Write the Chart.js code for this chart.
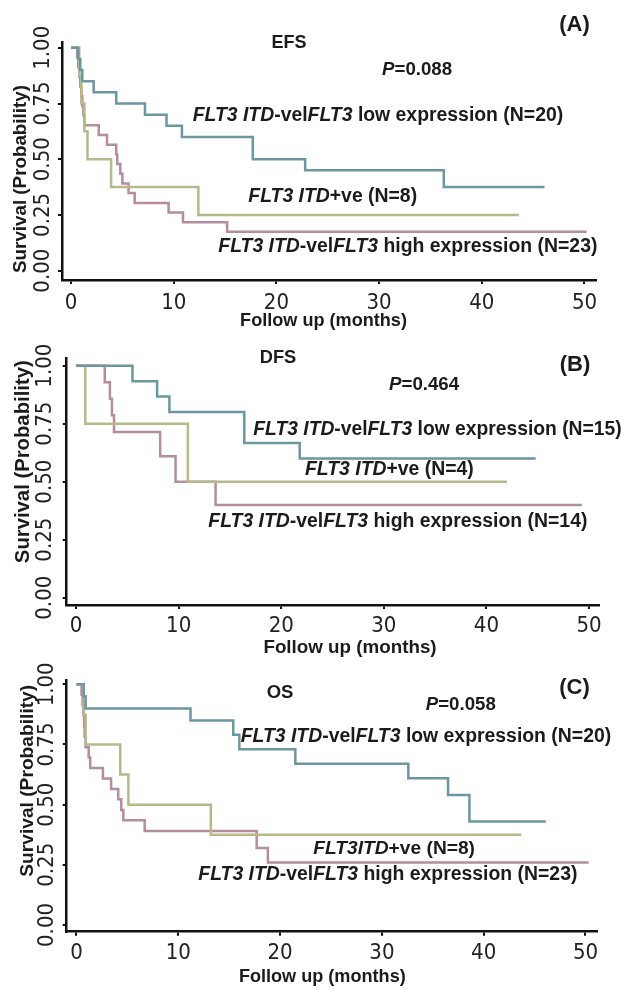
<!DOCTYPE html>
<html>
<head>
<meta charset="utf-8">
<title>FLT3 survival curves</title>
<script src="https://cdn.jsdelivr.net/npm/chart.js@4.4.0/dist/chart.umd.min.js"></script>
<style>
  body { margin: 0; background: #fff; }
  #wrap { position: relative; width: 629px; height: 989px; overflow: hidden; }
  canvas { position: absolute; left: 0; }
</style>
</head>
<body>
<div id="wrap">
  <canvas id="efs" width="629" height="330" style="top:0px"></canvas>
  <canvas id="dfs" width="629" height="336" style="top:330px"></canvas>
  <canvas id="os" width="629" height="334" style="top:655px"></canvas>
</div>
<script>
// ---- values: follow-up (months) and survival probability ----
const xTicks = [0, 10, 20, 30, 40, 50];
const yTicks = [0, 0.25, 0.5, 0.75, 1];

// (A) EFS
const efsLowTime = [0, 0.7, 0.9, 1.1, 2.2, 4.4, 7.2, 9.3, 10.8, 17.7, 22.8, 36.3, 46.1];
const efsLowSurv = [1, 0.95, 0.90, 0.85, 0.80, 0.75, 0.70, 0.65, 0.60, 0.50, 0.45, 0.375, 0.375];
const efsPosTime = [0, 0.8, 1.0, 1.3, 1.6, 3.9, 12.4, 43.6];
const efsPosSurv = [1, 0.875, 0.75, 0.625, 0.50, 0.375, 0.25, 0.25];
const efsHighTime = [0, 0.6, 0.7, 0.8, 0.9, 1.0, 1.1, 1.2, 1.3, 2.7, 3.5, 4.4, 4.5, 4.8, 5.0, 5.6, 6.2, 9.5, 10.9, 15.2, 50.2];
const efsHighSurv = [1, 0.957, 0.913, 0.870, 0.826, 0.783, 0.739, 0.696, 0.652, 0.609, 0.565, 0.522, 0.478, 0.435, 0.391, 0.348, 0.304, 0.261, 0.217, 0.174, 0.174];

// (B) DFS
const dfsLowTime = [0, 5.5, 7.9, 9.1, 16.4, 21.8, 44.8];
const dfsLowSurv = [1, 0.933, 0.867, 0.80, 0.667, 0.60, 0.60];
const dfsPosTime = [0, 0.9, 10.9, 42.0];
const dfsPosSurv = [1, 0.75, 0.50, 0.50];
const dfsHighTime = [0, 2.8, 3.3, 3.5, 3.7, 8.2, 9.7, 13.6, 49.3];
const dfsHighSurv = [1, 0.929, 0.857, 0.786, 0.714, 0.61, 0.50, 0.40, 0.40];

// (C) OS
const osLowTime = [0, 0.7, 0.9, 11.2, 15.4, 16.0, 21.5, 32.6, 36.5, 38.6, 46.1];
const osLowSurv = [1, 0.95, 0.90, 0.85, 0.79, 0.73, 0.67, 0.61, 0.54, 0.43, 0.43];
const osPosTime = [0, 0.7, 0.9, 4.3, 5.1, 13.2, 43.7];
const osPosSurv = [1, 0.875, 0.75, 0.625, 0.50, 0.375, 0.375];
const osHighTime = [0, 0.5, 0.6, 0.7, 0.75, 0.8, 0.9, 1.2, 1.35, 2.6, 3.4, 4.1, 4.4, 4.6, 6.7, 17.7, 18.8, 50.3];
const osHighSurv = [1, 0.957, 0.913, 0.870, 0.826, 0.783, 0.739, 0.696, 0.652, 0.609, 0.565, 0.522, 0.478, 0.435, 0.39, 0.32, 0.26, 0.26];

const lowColor = '#6a97a1';
const posColor = '#b6b98a';
const highColor = '#b58d9c';
const inkColor = '#1b1b1b';
const fontFamily = '"Liberation Sans", Arial, Helvetica, sans-serif';
const tickFamily = '"Liberation Sans Narrow", "Arial Narrow", "DejaVu Sans Condensed", sans-serif';

// label text pieces: [text, italic]
function lowLabel(n) {
    return [['FLT3 ITD', true], ['-vel', false], ['FLT3', true], [' low expression (N=' + n + ')', false]];
}
function highLabel(n) {
    return [['FLT3 ITD', true], ['-vel', false], ['FLT3', true], [' high expression (N=' + n + ')', false]];
}
function posLabel(name, n) {
    return [[name, true], ['+ve (N=' + n + ')', false]];
}
function pLabel(p) {
    return [['P', true], ['=' + p, false]];
}

const panels = [
    {
        id: 'efs', height: 330,
        area: { left: 62, right: 596, top: 42, bottom: 280 },
        xRange: [-0.88, 51.12], yRange: [-0.042, 1.026],
        yTickPad: -7, xTickPad: 5.6,
        series: [[efsLowTime, efsLowSurv, lowColor], [efsPosTime, efsPosSurv, posColor], [efsHighTime, efsHighSurv, highColor]],
        texts: [
            { runs: [['EFS', false]], x: 289, y: 43, size: 18, align: 'center' },
            { runs: [['(A)', false]], x: 574.5, y: 25, size: 22, align: 'center' },
            { runs: pLabel('0.088'), x: 382, y: 70, size: 18.7 },
            { runs: lowLabel(20), x: 192.7, y: 116, size: 19.4 },
            { runs: posLabel('FLT3 ITD', 8), x: 248.3, y: 196.7, size: 19.4 },
            { runs: highLabel(23), x: 218.3, y: 246.7, size: 19.4 },
            { runs: [['Follow up (months)', false]], x: 323.5, y: 321, size: 18.1, align: 'center' },
            { runs: [['Survival (Probability)', false]], x: 21, y: 179, size: 18.8, align: 'center', rotate: true }
        ]
    },
    {
        id: 'dfs', height: 336,
        area: { left: 66.7, right: 599, top: 28, bottom: 275 },
        xRange: [-0.91, 50.97], yRange: [-0.0315, 1.033],
        yTickPad: -4.8, xTickPad: 3.6,
        series: [[dfsLowTime, dfsLowSurv, lowColor], [dfsPosTime, dfsPosSurv, posColor], [dfsHighTime, dfsHighSurv, highColor]],
        texts: [
            { runs: [['DFS', false]], x: 278, y: 28.3, size: 18.3, align: 'center' },
            { runs: [['(B)', false]], x: 575, y: 35, size: 22, align: 'center' },
            { runs: pLabel('0.464'), x: 389, y: 55, size: 18.7 },
            { runs: lowLabel(15), x: 253.3, y: 100, size: 19.3 },
            { runs: posLabel('FLT3 ITD', 4), x: 305, y: 140, size: 19.4 },
            { runs: highLabel(14), x: 208.3, y: 191.7, size: 19.4 },
            { runs: [['Follow up (months)', false]], x: 350, y: 318.3, size: 18.8, align: 'center' },
            { runs: [['Survival (Probability)', false]], x: 23.3, y: 131.7, size: 20.3, align: 'center', rotate: true }
        ]
    },
    {
        id: 'os', height: 334,
        area: { left: 66.7, right: 597.3, top: 25, bottom: 276.7 },
        xRange: [-0.96, 51.16], yRange: [-0.028, 1.018],
        yTickPad: -6.5, xTickPad: 4.4,
        series: [[osLowTime, osLowSurv, lowColor], [osPosTime, osPosSurv, posColor], [osHighTime, osHighSurv, highColor]],
        texts: [
            { runs: [['OS', false]], x: 280, y: 38.3, size: 18.5, align: 'center' },
            { runs: [['(C)', false]], x: 574.5, y: 33.3, size: 22, align: 'center' },
            { runs: pLabel('0.058'), x: 425.7, y: 50, size: 18.7 },
            { runs: lowLabel(20), x: 240.7, y: 81.7, size: 19.4 },
            { runs: posLabel('FLT3ITD', 8), x: 313.3, y: 193.3, size: 19.2 },
            { runs: highLabel(23), x: 198.3, y: 220, size: 19.4 },
            { runs: [['Follow up (months)', false]], x: 322.3, y: 321.7, size: 18.1, align: 'center' },
            { runs: [['Survival (Probability)', false]], x: 27.5, y: 125.8, size: 19.2, align: 'center', rotate: true }
        ]
    }
];

function boldFont(italic, size) {
    return (italic ? 'italic ' : '') + 'bold ' + size + 'px ' + fontFamily;
}

// draws the annotations (group labels, P values, axis titles) after the chart
function textPlugin(items) {
    return {
        id: 'panelText',
        afterDraw(chart) {
            const ctx = chart.ctx;
            ctx.save();
            ctx.fillStyle = inkColor;
            ctx.textBaseline = 'middle';
            ctx.textAlign = 'left';
            items.forEach(item => {
                let total = 0;
                item.runs.forEach(r => {
                    ctx.font = boldFont(r[1], item.size);
                    total += ctx.measureText(r[0]).width;
                });
                ctx.save();
                ctx.translate(item.x, item.y);
                if (item.rotate) ctx.rotate(-Math.PI / 2);
                let x = item.align === 'center' ? -total / 2 : 0;
                item.runs.forEach(r => {
                    ctx.font = boldFont(r[1], item.size);
                    ctx.fillText(r[0], x, 0);
                    x += ctx.measureText(r[0]).width;
                });
                ctx.restore();
            });
            ctx.restore();
        }
    };
}

panels.forEach(p => {
    const ctx = document.getElementById(p.id).getContext('2d');
    const datasets = p.series.map(s => ({
        data: s[0].map((t, i) => ({ x: t, y: s[1][i] })),
        borderColor: s[2],
        borderWidth: 2.5,
        stepped: 'before',
        pointRadius: 0,
        fill: false,
        tension: 0
    }));

    new Chart(ctx, {
        type: 'line',
        data: { datasets: datasets },
        options: {
            responsive: false,
            animation: false,
            devicePixelRatio: 1,
            layout: { padding: { top: p.area.top, right: 629 - p.area.right, left: 0, bottom: 0 } },
            plugins: { legend: { display: false }, tooltip: { enabled: false } },
            scales: {
                x: {
                    type: 'linear',
                    min: p.xRange[0], max: p.xRange[1],
                    afterBuildTicks: s => { s.ticks = xTicks.map(v => ({ value: v })); },
                    afterFit: s => { s.height = p.height - p.area.bottom; },
                    ticks: { color: '#222', padding: p.xTickPad, maxRotation: 0, font: { family: tickFamily, size: 22 } },
                    grid: { drawOnChartArea: false, drawTicks: true, tickLength: 4, color: '#111', lineWidth: 2 },
                    border: { display: true, color: '#111', width: 2.5 }
                },
                y: {
                    type: 'linear',
                    min: p.yRange[0], max: p.yRange[1],
                    afterBuildTicks: s => { s.ticks = yTicks.map(v => ({ value: v })); },
                    afterFit: s => { s.width = p.area.left; },
                    ticks: {
                        color: '#222', padding: p.yTickPad, minRotation: 90, maxRotation: 90,
                        crossAlign: 'center', font: { family: tickFamily, size: 22 },
                        callback: v => Number(v).toFixed(2)
                    },
                    grid: { drawOnChartArea: false, drawTicks: true, tickLength: 4, color: '#111', lineWidth: 2 },
                    border: { display: true, color: '#111', width: 2.5 }
                }
            }
        },
        plugins: [textPlugin(p.texts)]
    });
});
</script>
</body>
</html>
